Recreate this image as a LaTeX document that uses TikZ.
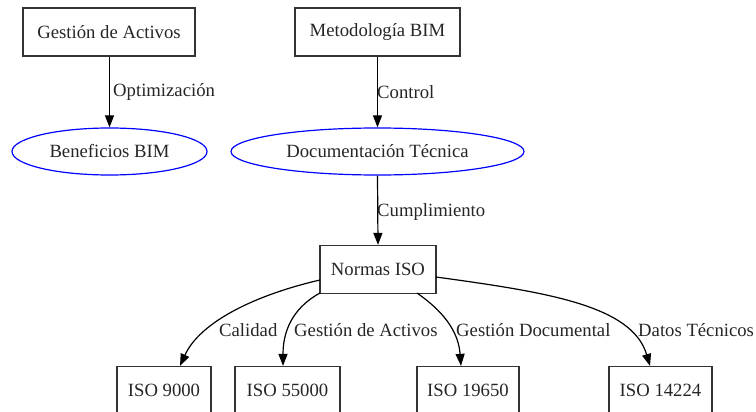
\documentclass[tikz,border=0pt]{standalone}
\usepackage{fontspec}
\setmainfont{Liberation Serif}
\usetikzlibrary{arrows.meta,shapes.geometric}
\begin{document}
\begin{tikzpicture}[x=1pt,y=-1pt,
  every node/.style={font=\fontsize{18.7}{22}\selectfont, text=black!85, inner sep=0pt},
  box/.style={draw=black!80, line width=1.2pt, rectangle, minimum height=48pt},
  oval/.style={draw=blue, line width=1.2pt, ellipse, minimum height=47pt},
  lbl/.style={anchor=west},
  link/.style={draw=black, line width=1.2pt, -{Triangle[length=12pt,width=9pt]}}
]
\useasboundingbox (0,0) rectangle (756,412);
\clip (0,0) rectangle (756,412);

% top row
\node[box, minimum width=172pt] (ga) at (109,32) {Gestión de Activos};
\node[box, minimum width=165pt] (mb) at (377.5,32) {Metodología BIM};

% second row
\node[oval, minimum width=195pt] (bb) at (109.5,151.5) {Beneficios BIM};
\node[oval, minimum width=293pt] (dt) at (377.5,151.5) {Documentación Técnica};

% hub
\node[box, minimum width=116pt] (ni) at (378,269.5) {Normas ISO};

% standards
\node[box, minimum width=94pt] (i9) at (164,390.5) {ISO 9000};
\node[box, minimum width=105pt] (i55) at (287.5,390.5) {ISO 55000};
\node[box, minimum width=102pt] (i19) at (468,390.5) {ISO 19650};
\node[box, minimum width=103pt] (i14) at (660.5,390.5) {ISO 14224};

% coordinates on the hub border
\coordinate (n1) at (320,280);
\coordinate (n2) at (320,293);
\coordinate (n3) at (417,293);
\coordinate (n4) at (436,277);

% straight connectors
\draw[link] (ga.south -| bb.north) -- (bb.north);
\draw[link] (mb.south) -- (dt.north);
\draw[link] (dt.south) -- (ni.north);

% curved connectors
\draw[link] (n1) .. controls (255,295) and (200,322) .. (i9.north -| 180,0);
\draw[link] (n2) .. controls (298,305) and (283,325) .. (i55.north -| 283,0);
\draw[link] (n3) .. controls (434,305) and (458,325) .. (i19.north -| 461,0);
\draw[link] (n4) .. controls (545,292) and (632,305) .. (i14.north -| 650,0);

% connector labels
\node[lbl] (l1) at (113,92) {Optimización};
\node[lbl] (l2) at (377,92) {Control};
\node[lbl] (l3) at (377,212) {Cumplimiento};
\node[lbl] (l4) at (219,330) {Calidad};
\node[lbl] (l5) at (294,330) {Gestión de Activos};
\node[lbl] (l6) at (456,330) {Gestión Documental};
\node[lbl] (l7) at (638,330) {Datos Técnicos};
\end{tikzpicture}
\end{document}
